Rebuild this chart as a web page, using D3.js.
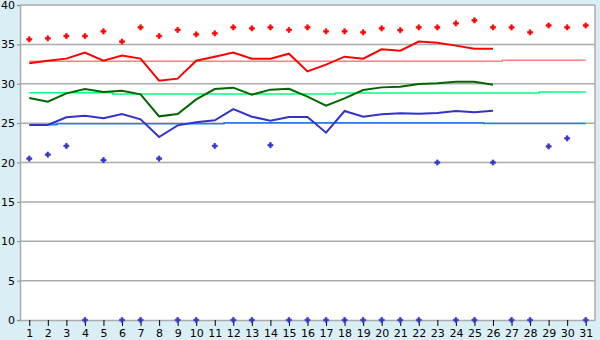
<!DOCTYPE html>
<html><head><meta charset="utf-8">
<script src="https://cdn.jsdelivr.net/npm/d3@7"></script>
<style>
html,body{margin:0;padding:0;background:#DAEFF5;}
svg{display:block;}
text{font-family:"DejaVu Sans",Verdana,sans-serif;font-size:11px;fill:#000;}
</style></head><body>
<script>
const days = d3.range(1, 32);
const yTicks = [0,5,10,15,20,25,30,35,40];
const maxDots = [35.64,35.77,36.06,36.06,36.66,35.35,37.16,36.06,36.83,36.27,36.4,37.16,37.03,37.16,36.83,37.16,36.66,36.66,36.53,37.03,36.8,37.16,37.16,37.67,38.05,37.16,37.16,36.53,37.4,37.16,37.4];
const lowDots = [20.5,21.0,22.1,0,20.3,0,0,20.5,0,0,22.1,0,0,22.2,0,0,0,0,0,0,0,0,20.0,0,0,20.0,0,0,22.05,23.07,0];
const redLine = [32.6,32.93,33.19,33.95,32.93,33.57,33.19,30.39,30.65,32.93,33.44,33.95,33.19,33.19,33.82,31.57,32.42,33.44,33.19,34.37,34.2,35.35,35.22,34.84,34.46,34.46];
const greenLine = [28.19,27.72,28.78,29.33,28.95,29.12,28.66,25.86,26.16,28.02,29.33,29.5,28.61,29.25,29.37,28.36,27.21,28.15,29.2,29.54,29.63,29.97,30.05,30.26,30.26,29.88];
const blueLine = [24.76,24.76,25.74,25.95,25.61,26.16,25.48,23.24,24.72,25.1,25.35,26.79,25.82,25.31,25.78,25.78,23.79,26.54,25.82,26.12,26.24,26.2,26.29,26.54,26.37,26.58];
const pinkRef = [32.86,32.86,32.86,32.86,32.86,32.86,32.86,32.86,32.86,32.86,32.86,32.86,32.86,32.86,32.86,32.86,32.86,32.86,32.86,32.86,32.86,32.86,32.86,32.86,32.86,32.86,32.97,32.97,32.97,32.97,32.97];
const greenRef = [28.87,28.87,28.87,28.87,28.87,28.7,28.7,28.7,28.7,28.7,28.7,28.7,28.7,28.7,28.7,28.7,28.7,28.83,28.83,28.83,28.83,28.83,28.83,28.83,28.83,28.83,28.83,28.83,28.95,28.95,28.95];
const blueRef = [24.8,24.8,24.93,24.93,24.93,24.93,24.93,24.93,24.93,24.93,24.93,25.05,25.05,25.05,25.05,25.05,25.05,25.05,25.05,25.05,25.05,25.05,25.05,25.05,25.05,24.95,24.95,24.95,24.95,24.95,24.95];

const W = 600, H = 340;
const svg = d3.select("body").append("svg").attr("width", W).attr("height", H);
const L = 20, R = 595, T = 5, B = 320;
const x = d3.scalePoint().domain(days).range([L, R]).padding(0.5);
const y = d3.scaleLinear().domain([0, 40]).range([B, T]);

svg.append("rect").attr("x", L).attr("y", T).attr("width", R - L).attr("height", B - T).attr("fill", "#fff");

// grid
svg.append("g").selectAll("line").data(yTicks.filter(v => v > 0)).join("line")
  .attr("x1", L).attr("x2", R).attr("y1", d => y(d)).attr("y2", d => y(d))
  .attr("stroke", "#ABABAB").attr("stroke-width", 1.5);
// right border
svg.append("line").attr("x1", R).attr("x2", R).attr("y1", T).attr("y2", B).attr("stroke", "#ABABAB").attr("stroke-width", 1.5);

// y axis
const ya = svg.append("g").attr("transform", `translate(${L},0)`).call(d3.axisLeft(y).tickValues(yTicks).tickSize(3).tickPadding(2));
ya.select(".domain").attr("stroke", "#ABABAB").attr("stroke-width", 1.5);
ya.selectAll(".tick line").attr("stroke", "#888");
ya.selectAll("text").attr("font-size", 11).attr("font-family", "DejaVu Sans");

// x axis
const xa = svg.append("g").attr("transform", `translate(0,${B})`).call(d3.axisBottom(x).tickSize(6).tickPadding(3).tickSizeOuter(0));
xa.select(".domain").attr("stroke", "#ABABAB").attr("stroke-width", 1.5);
xa.selectAll(".tick line").attr("stroke", "#000");
xa.selectAll("text").attr("font-size", 11).attr("font-family", "DejaVu Sans");

const stepLine = d3.line().x((d, i) => x(days[i])).y(d => y(d)).curve(d3.curveStep);
const lin = d3.line().x((d, i) => x(days[i])).y(d => y(d));

[[pinkRef, "#FF8080"], [greenRef, "#00FF80"], [blueRef, "#1E7FE8"]].forEach(([arr, c]) => {
  svg.append("path").attr("d", stepLine(arr)).attr("fill", "none").attr("stroke", c).attr("stroke-width", 1.5);
});
[[redLine, "#FF0000"], [greenLine, "#006600"], [blueLine, "#3333CC"]].forEach(([arr, c]) => {
  svg.append("path").attr("d", lin(arr)).attr("fill", "none").attr("stroke", c).attr("stroke-width", 2);
});

const sym = d3.symbol().type(d3.symbolCross).size(15);
svg.append("g").selectAll("path").data(maxDots).join("path")
  .attr("transform", (d, i) => `translate(${x(days[i])},${y(d)})`).attr("d", sym).attr("fill", "#FF0000").attr("stroke", "#FF0000").attr("stroke-width", 0.6);
svg.append("g").selectAll("path").data(lowDots).join("path")
  .attr("transform", (d, i) => `translate(${x(days[i])},${y(d)})`).attr("d", sym).attr("fill", "#3333CC").attr("stroke", "#3333CC").attr("stroke-width", 0.6);
</script>
</body></html>
